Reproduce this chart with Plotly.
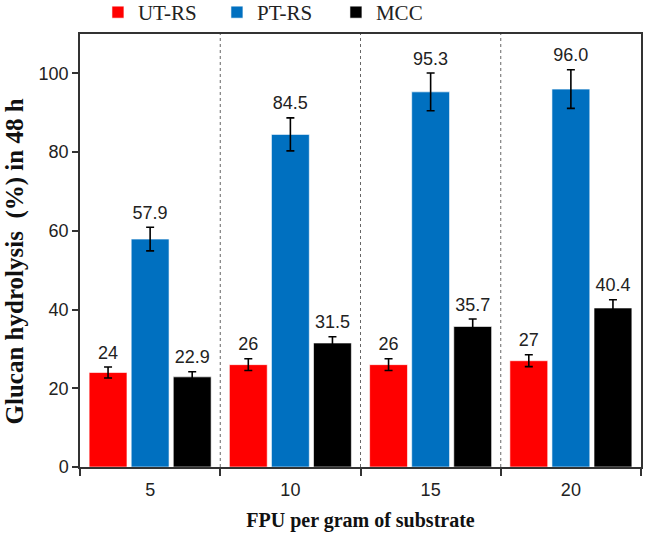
import plotly.graph_objects as go

categories = ["5", "10", "15", "20"]
series_names = ["UT-RS", "PT-RS", "MCC"]
ut_rs = [24, 26, 26, 27]
pt_rs = [57.9, 84.5, 95.3, 96.0]
mcc = [22.9, 31.5, 35.7, 40.4]
ut_err = [1.4, 1.5, 1.5, 1.5]
pt_err = [3.0, 4.2, 4.8, 4.9]
mcc_err = [1.3, 1.6, 1.9, 2.1]
ut_lbl = ["24", "26", "26", "27"]
pt_lbl = ["57.9", "84.5", "95.3", "96.0"]
mcc_lbl = ["22.9", "31.5", "35.7", "40.4"]
colors = ["#FF0000", "#0070C0", "#000000"]

offsets = [-0.3, 0.0, 0.3]
bar_w = 0.27
label_pad = 1.0
idx = list(range(len(categories)))

fig = go.Figure()
for name, vals, errs, lbls, col, off in zip(series_names, [ut_rs, pt_rs, mcc],
                                             [ut_err, pt_err, mcc_err],
                                             [ut_lbl, pt_lbl, mcc_lbl], colors, offsets):
    xs = [i + off for i in idx]
    fig.add_trace(go.Bar(
        x=xs, y=vals, width=bar_w, name=name,
        marker=dict(color=col, line=dict(color="white", width=0.6)),
        error_y=dict(type="data", array=errs, visible=True, color="black",
                     thickness=1.6, width=4),
    ))
    fig.add_trace(go.Scatter(
        x=xs, y=[v + e + label_pad for v, e in zip(vals, errs)], mode="text", text=lbls,
        textposition="top center", showlegend=False, hoverinfo="skip",
        textfont=dict(family="Liberation Sans, Arial", size=18, color="#222"),
    ))

for b in [0.5, 1.5, 2.5]:
    fig.add_shape(type="line", xref="x", yref="y domain", x0=b, x1=b, y0=0, y1=1,
                  line=dict(color="#666", width=1, dash="dot"))

fig.add_annotation(
    text="<b>Glucan hydrolysis  (%) in 48 h</b>", textangle=-90,
    xref="paper", yref="paper", x=-0.116, y=0.44, xanchor="center", yanchor="middle",
    showarrow=False,
    font=dict(family="Liberation Serif, Times New Roman", size=25, color="#111"),
)

fig.update_layout(
    width=645, height=536,
    margin=dict(l=80, r=4, t=0, b=69, autoexpand=False),
    plot_bgcolor="white", paper_bgcolor="white",
    showlegend=True,
    legend=dict(orientation="h", x=0.032, y=1 + 8 / 467, xanchor="left", yanchor="top",
                font=dict(family="Liberation Serif, Times New Roman", size=21, color="#222"),
                itemwidth=30, tracegroupgap=0, bgcolor="rgba(0,0,0,0)",
                entrywidth=74, entrywidthmode="pixels"),
    xaxis=dict(
        range=[-0.5, 3.5], tickvals=idx, ticktext=categories,
        ticks="outside", ticklen=6, tickcolor="rgba(0,0,0,0)",
        showline=True, linecolor="#333", linewidth=1.5, mirror=True, showgrid=False,
        zeroline=False,
        minor=dict(tickvals=[-0.5, 0.5, 1.5, 2.5, 3.5], ticks="outside", ticklen=7,
                   tickcolor="#333", tickwidth=1.5, showgrid=False),
        tickfont=dict(family="Liberation Sans, Arial", size=18, color="#222"),
        title=dict(text="<b>FPU per gram of substrate</b>", standoff=14,
                   font=dict(family="Liberation Serif, Times New Roman", size=20, color="#111")),
    ),
    yaxis=dict(
        domain=[0, 1 - 34 / 467],
        range=[0, 110], tickvals=[0, 20, 40, 60, 80, 100], ticks="outside", ticklen=6,
        tickcolor="#333", tickwidth=1.5,
        showline=True, linecolor="#333", linewidth=1.5, mirror=True, showgrid=False,
        zeroline=False,
        tickfont=dict(family="Liberation Sans, Arial", size=18, color="#222"),
    ),
)

fig.write_html("out.html", post_script="document.body.style.margin='0';",
               config={"displayModeBar": False})
